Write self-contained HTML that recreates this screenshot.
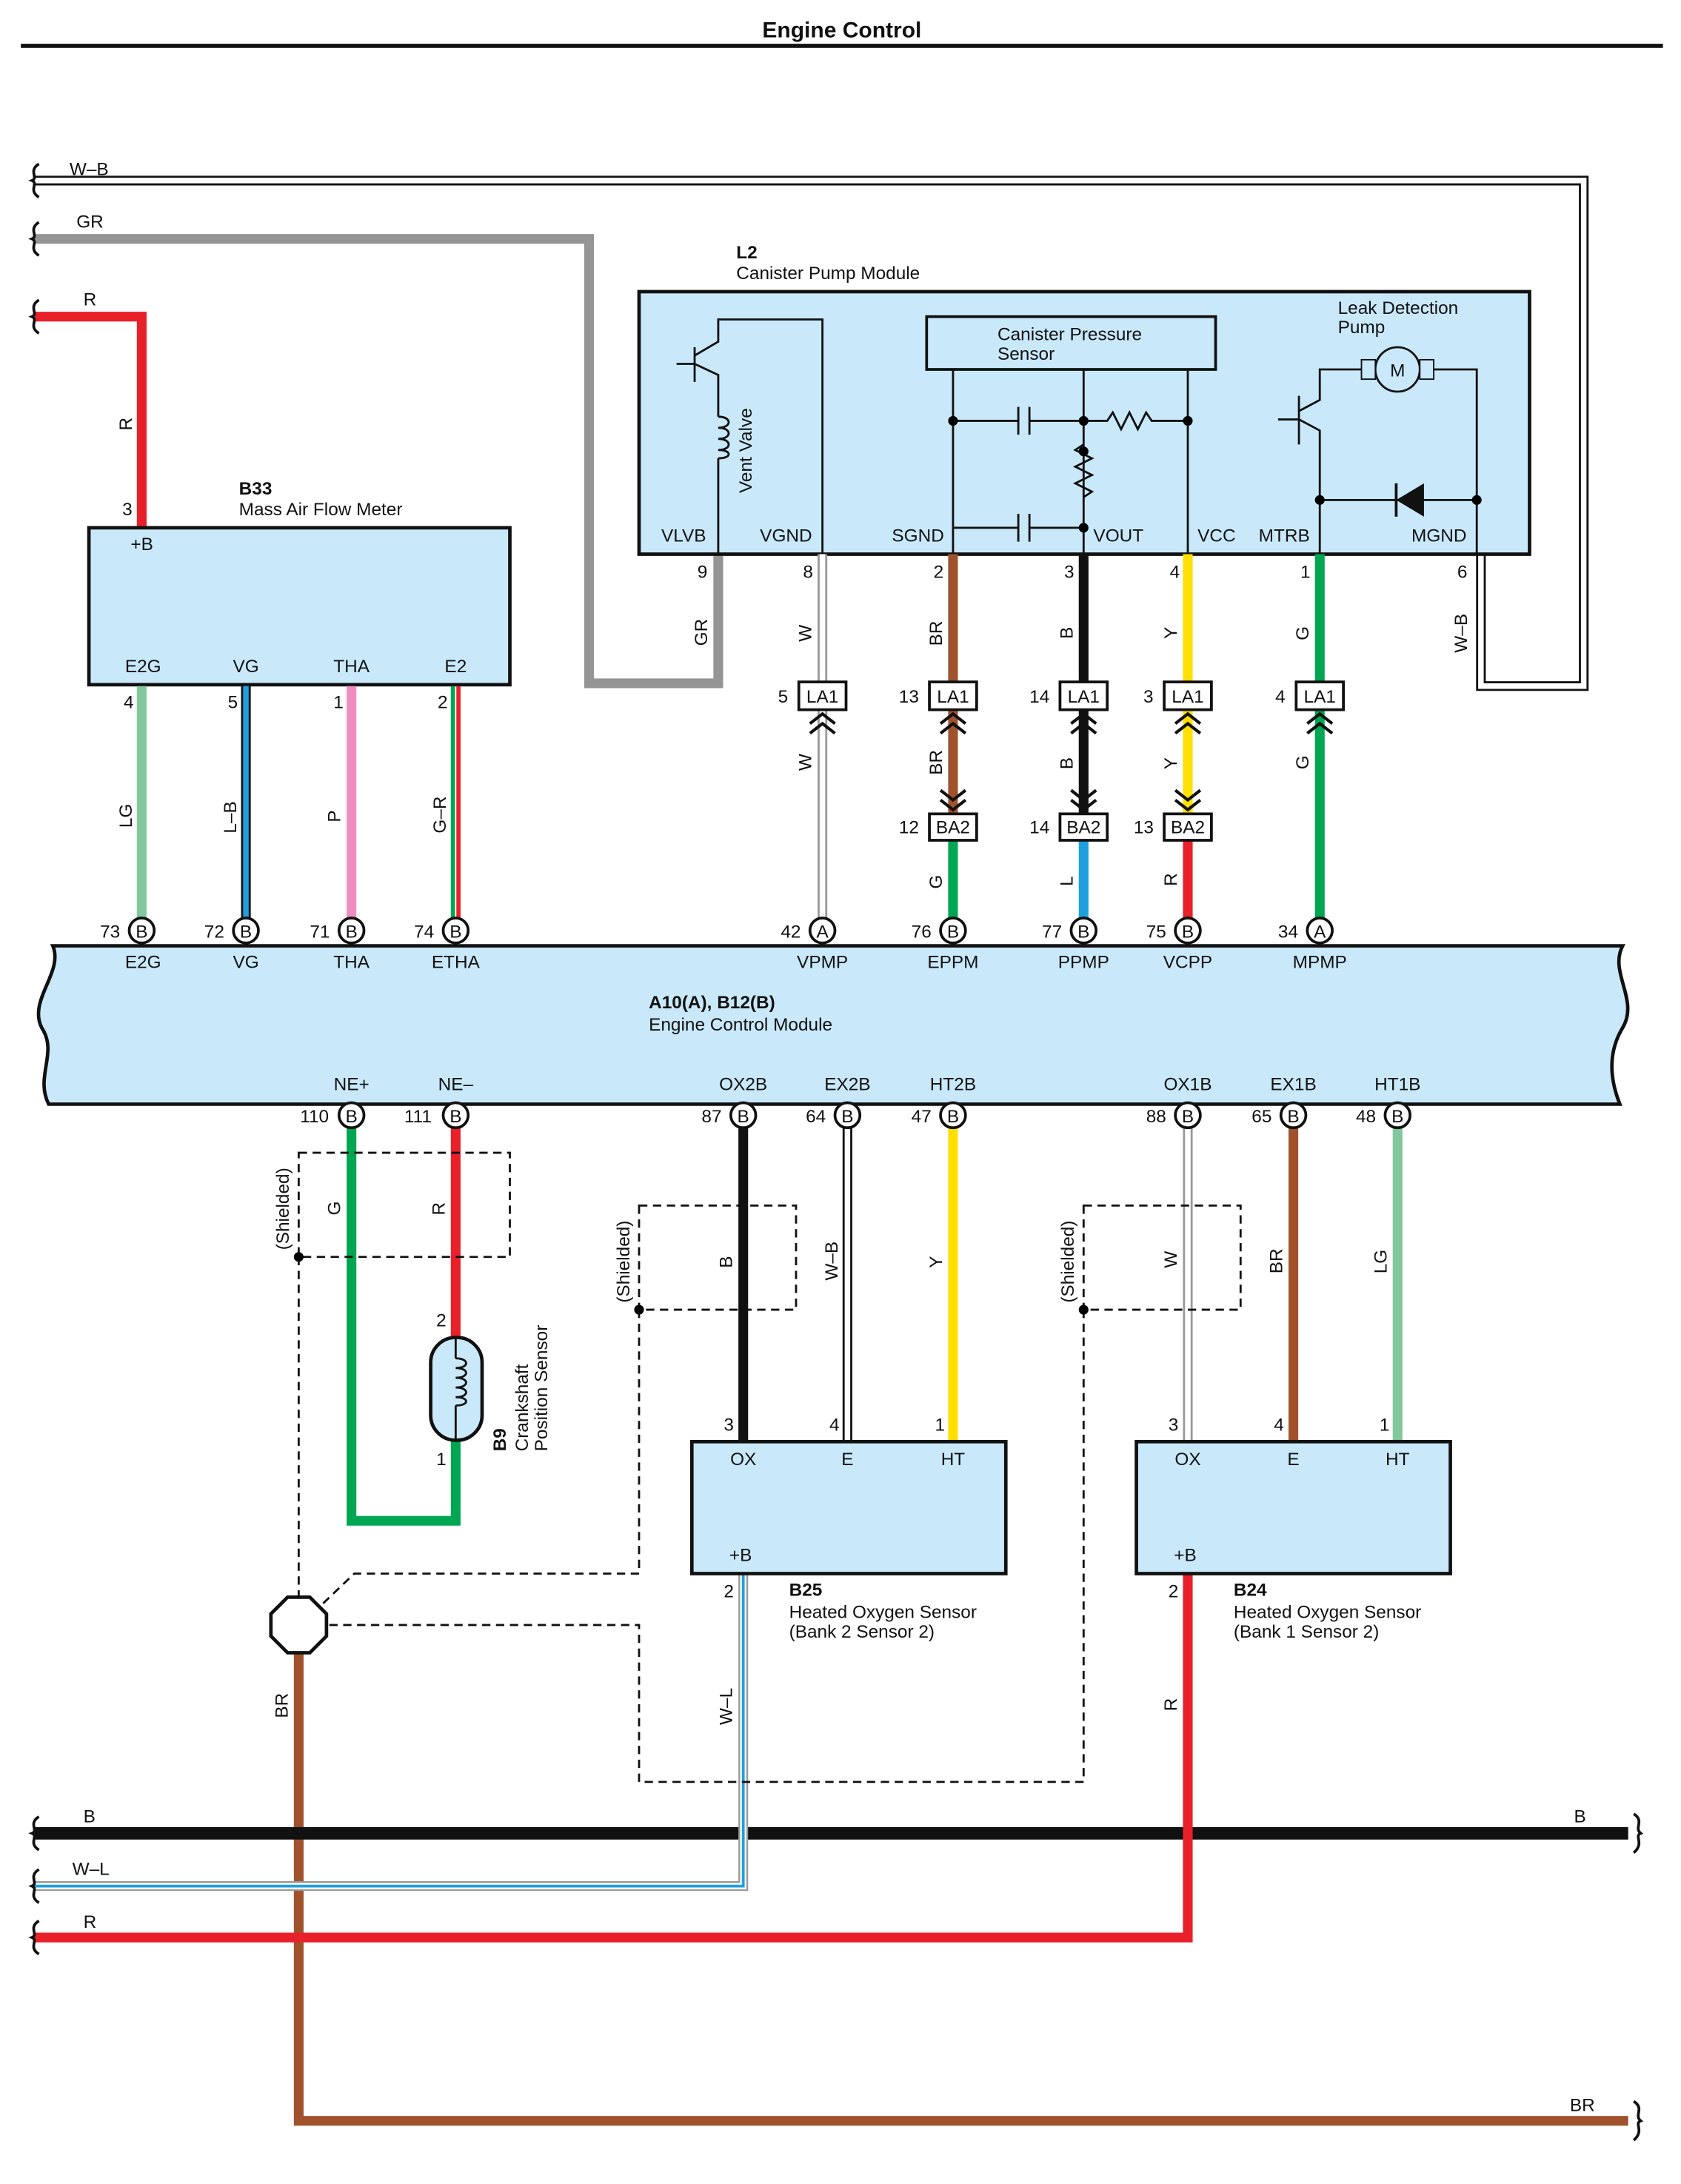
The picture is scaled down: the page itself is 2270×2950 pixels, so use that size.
<!DOCTYPE html>
<html><head><meta charset="utf-8"><style>
html,body{margin:0;padding:0;background:#fff}
svg{display:block}
text{font-family:"Liberation Sans",Arial,sans-serif;font-size:13px;fill:#111}
.b{font-weight:bold}
.box{fill:#c9e9fb;stroke:#111;stroke-width:2.5}
.th{fill:none;stroke:#111;stroke-width:1.5}
.d{fill:none;stroke:#111;stroke-width:1.5;stroke-dasharray:6,4}
</style></head><body>
<svg width="2270" height="2950" viewBox="0 0 1210 1572.5" xmlns="http://www.w3.org/2000/svg">
<text x="606" y="27" class="b" font-size="16" text-anchor="middle" style="font-size:16px">Engine Control</text>
<line x1="15" y1="33" x2="1197" y2="33" stroke="#111" stroke-width="3"/>

<!-- W-B wire -->
<path d="M25,130 H1140 V494 H1066 V400" fill="none" stroke="#111" stroke-width="7"/>
<path d="M25,130 H1140 V494 H1066 V400" fill="none" stroke="#fff" stroke-width="4"/>
<!-- GR -->
<path d="M25,172 H424 V492 H517 V400" fill="none" stroke="#959595" stroke-width="7"/>
<!-- R top -->
<path d="M25,228 H102 V380" fill="none" stroke="#e8202a" stroke-width="7"/>
<text x="50" y="126">W–B</text><text x="55" y="164">GR</text><text x="60" y="220">R</text>
<text transform="translate(95,310) rotate(-90)">R</text>

<!-- B33 -->
<rect x="64" y="380" width="303" height="113" class="box"/>
<text x="172" y="356" class="b">B33</text><text x="172" y="371">Mass Air Flow Meter</text>
<text x="88" y="371">3</text><text x="94" y="396">+B</text>
<text x="103" y="484" text-anchor="middle">E2G</text><text x="177" y="484" text-anchor="middle">VG</text>
<text x="253" y="484" text-anchor="middle">THA</text><text x="328" y="484" text-anchor="middle">E2</text>
<line x1="102" y1="494" x2="102" y2="661" stroke="#82c89c" stroke-width="7"/>
<line x1="177" y1="494" x2="177" y2="661" stroke="#111" stroke-width="7"/>
<line x1="177" y1="494" x2="177" y2="661" stroke="#1ea0e0" stroke-width="4"/>
<line x1="253" y1="494" x2="253" y2="661" stroke="#f08dc0" stroke-width="7"/>
<line x1="326" y1="494" x2="326" y2="661" stroke="#00a651" stroke-width="3"/>
<line x1="330" y1="494" x2="330" y2="661" stroke="#e8202a" stroke-width="3"/>
<text x="89" y="510">4</text><text x="164" y="510">5</text><text x="240" y="510">1</text><text x="315" y="510">2</text>
<text transform="translate(95,596) rotate(-90)">LG</text><text transform="translate(170,600) rotate(-90)">L–B</text>
<text transform="translate(245,592) rotate(-90)">P</text><text transform="translate(321,600) rotate(-90)">G–R</text>

<!-- L2 -->
<rect x="460" y="210" width="641" height="189" class="box"/>
<text x="530" y="186" class="b">L2</text><text x="530" y="201">Canister Pump Module</text>
<text x="476" y="390">VLVB</text><text x="547" y="390">VGND</text><text x="642" y="390">SGND</text>
<text x="787" y="390">VOUT</text><text x="862" y="390">VCC</text><text x="906" y="390">MTRB</text><text x="1016" y="390">MGND</text>
<!-- vent valve -->
<path d="M517,399 V330 M517,300 V270 L500,262 M500,250 V275 M500,262 H487 M500,256 L517,246 V230 H592 V399" class="th"/>
<path d="M517,300 c10,0 10,8 0,8 c10,0 10,8 0,8 c10,0 10,8 0,8 c10,0 10,6 0,6" class="th"/>
<text transform="translate(541,355) rotate(-90)">Vent Valve</text>
<!-- sensor -->
<rect x="667" y="228" width="208" height="38" fill="none" stroke="#111" stroke-width="2"/>
<text x="718" y="245">Canister Pressure</text><text x="718" y="259">Sensor</text>
<path d="M686,266 V399 M780,266 V399 M855,266 V399 M686,303 H733 M741,303 H780 M733,293 V313 M741,293 V313 M780,303 H797 l4,-6 l6,12 l6,-12 l6,12 l6,-12 l4,6 H855 M780,320 l-6,4 l12,6 l-12,6 l12,6 l-12,6 l12,6 l-6,4 V380 M686,380 H733 M741,380 H780 M733,370 V390 M741,370 V390" class="th"/>
<circle cx="686" cy="303" r="3.5"/><circle cx="780" cy="303" r="3.5"/><circle cx="855" cy="303" r="3.5"/><circle cx="780" cy="325" r="3.5"/><circle cx="780" cy="380" r="3.5"/>
<!-- pump -->
<text x="963" y="226">Leak Detection</text><text x="963" y="240">Pump</text>
<circle cx="1006" cy="266" r="16" fill="#c9e9fb" stroke="#111" stroke-width="1.5"/><text x="1006" y="271" text-anchor="middle">M</text>
<rect x="980" y="259" width="10" height="14" fill="#c9e9fb" stroke="#111"/><rect x="1022" y="259" width="10" height="14" fill="#c9e9fb" stroke="#111"/>
<path d="M950,399 V310 L935,302 M935,285 V320 M935,302 H920 M935,296 L950,288 V266 H980 M1032,266 H1063 V399 M950,360 H1063" class="th"/>
<path d="M1025,348 V372 L1005,360 Z" fill="#111"/><line x1="1005" y1="348" x2="1005" y2="372" stroke="#111" stroke-width="2"/>
<circle cx="950" cy="360" r="3.5"/><circle cx="1063" cy="360" r="3.5"/>

<!-- L2 pins -->
<text x="502" y="416">9</text><text x="578" y="416">8</text><text x="672" y="416">2</text><text x="766" y="416">3</text><text x="842" y="416">4</text><text x="936" y="416">1</text><text x="1049" y="416">6</text>
<!-- wires down -->
<line x1="592" y1="399" x2="592" y2="661" stroke="#999" stroke-width="7"/><line x1="592" y1="399" x2="592" y2="661" stroke="#fff" stroke-width="4"/>
<line x1="686" y1="399" x2="686" y2="586" stroke="#a0522d" stroke-width="7"/><line x1="686" y1="605" x2="686" y2="661" stroke="#00a651" stroke-width="7"/>
<line x1="780" y1="399" x2="780" y2="586" stroke="#111" stroke-width="7"/><line x1="780" y1="605" x2="780" y2="661" stroke="#1ea0e0" stroke-width="7"/>
<line x1="855" y1="399" x2="855" y2="586" stroke="#ffe000" stroke-width="7"/><line x1="855" y1="605" x2="855" y2="661" stroke="#e8202a" stroke-width="7"/>
<line x1="950" y1="399" x2="950" y2="661" stroke="#00a651" stroke-width="7"/>
<g>
<text transform="translate(509,465) rotate(-90)">GR</text><text transform="translate(584,462) rotate(-90)">W</text>
<text transform="translate(678,465) rotate(-90)">BR</text><text transform="translate(772,460) rotate(-90)">B</text>
<text transform="translate(847,460) rotate(-90)">Y</text><text transform="translate(942,461) rotate(-90)">G</text>
<text transform="translate(1056,470) rotate(-90)">W–B</text>
<text transform="translate(584,555) rotate(-90)">W</text><text transform="translate(678,558) rotate(-90)">BR</text>
<text transform="translate(772,554) rotate(-90)">B</text><text transform="translate(847,554) rotate(-90)">Y</text><text transform="translate(942,554) rotate(-90)">G</text>
<text transform="translate(678,640) rotate(-90)">G</text><text transform="translate(772,638) rotate(-90)">L</text><text transform="translate(847,638) rotate(-90)">R</text>
</g>
<!-- LA1 connectors -->
<g fill="#fff" stroke="#111" stroke-width="2">
<rect x="575" y="491" width="34" height="20"/><rect x="669" y="491" width="34" height="20"/><rect x="763" y="491" width="34" height="20"/><rect x="838" y="491" width="34" height="20"/><rect x="933" y="491" width="34" height="20"/>
<rect x="669" y="586" width="34" height="19"/><rect x="763" y="586" width="34" height="19"/><rect x="838" y="586" width="34" height="19"/>
</g>
<g class="th" style="stroke-width:2.2">
<path d="M583,521 l9,-7 l9,7 M583,528 l9,-7 l9,7"/><path d="M677,521 l9,-7 l9,7 M677,528 l9,-7 l9,7"/><path d="M771,521 l9,-7 l9,7 M771,528 l9,-7 l9,7"/><path d="M846,521 l9,-7 l9,7 M846,528 l9,-7 l9,7"/><path d="M941,521 l9,-7 l9,7 M941,528 l9,-7 l9,7"/>
<path d="M677,569 l9,7 l9,-7 M677,576 l9,7 l9,-7"/><path d="M771,569 l9,7 l9,-7 M771,576 l9,7 l9,-7"/><path d="M846,569 l9,7 l9,-7 M846,576 l9,7 l9,-7"/>
</g>
<g text-anchor="middle"><text x="592" y="506">LA1</text><text x="686" y="506">LA1</text><text x="780" y="506">LA1</text><text x="855" y="506">LA1</text><text x="950" y="506">LA1</text>
<text x="686" y="600">BA2</text><text x="780" y="600">BA2</text><text x="855" y="600">BA2</text></g>
<text x="560" y="506">5</text><text x="647" y="506">13</text><text x="741" y="506">14</text><text x="823" y="506">3</text><text x="918" y="506">4</text>
<text x="647" y="600">12</text><text x="741" y="600">14</text><text x="816" y="600">13</text>

<!-- ECM -->
<path d="M38,681 L1168,681 C1158,700 1180,720 1168,740 C1156,760 1160,780 1166,795 L35,795 C25,775 42,758 30,740 C20,720 46,700 38,681 Z" class="box"/>
<text x="467" y="726" class="b">A10(A), B12(B)</text><text x="467" y="742">Engine Control Module</text>
<g text-anchor="middle">
<text x="103" y="697">E2G</text><text x="177" y="697">VG</text><text x="253" y="697">THA</text><text x="328" y="697">ETHA</text>
<text x="592" y="697">VPMP</text><text x="686" y="697">EPPM</text><text x="780" y="697">PPMP</text><text x="855" y="697">VCPP</text><text x="950" y="697">MPMP</text>
<text x="253" y="785">NE+</text><text x="328" y="785">NE–</text><text x="535" y="785">OX2B</text><text x="610" y="785">EX2B</text><text x="686" y="785">HT2B</text>
<text x="855" y="785">OX1B</text><text x="931" y="785">EX1B</text><text x="1006" y="785">HT1B</text>
</g>

<!-- lower wires -->
<path d="M253,812 V1095 H328 V1037" fill="none" stroke="#00a651" stroke-width="7"/>
<line x1="328" y1="812" x2="328" y2="963" stroke="#e8202a" stroke-width="7"/>
<line x1="535" y1="812" x2="535" y2="1038" stroke="#111" stroke-width="7"/>
<line x1="610" y1="812" x2="610" y2="1038" stroke="#111" stroke-width="7"/><line x1="610" y1="812" x2="610" y2="1038" stroke="#fff" stroke-width="4"/>
<line x1="686" y1="812" x2="686" y2="1038" stroke="#ffe000" stroke-width="7"/>
<line x1="855" y1="812" x2="855" y2="1038" stroke="#999" stroke-width="7"/><line x1="855" y1="812" x2="855" y2="1038" stroke="#fff" stroke-width="4"/>
<line x1="931" y1="812" x2="931" y2="1038" stroke="#a0522d" stroke-width="7"/>
<line x1="1006" y1="812" x2="1006" y2="1038" stroke="#82c89c" stroke-width="7"/>

<!-- bottom bus -->
<path d="M215,1190 V1527 H1172" fill="none" stroke="#a0522d" stroke-width="7"/>
<line x1="25" y1="1320" x2="1172" y2="1320" stroke="#111" stroke-width="9"/>
<path d="M535,1133 V1358 H25" fill="none" stroke="#999" stroke-width="7"/><path d="M535,1133 V1358 H25" fill="none" stroke="#fff" stroke-width="4.5"/>
<path d="M535,1133 V1358 H25" fill="none" stroke="#1ea0e0" stroke-width="2"/>
<path d="M855,1133 V1395 H25" fill="none" stroke="#e8202a" stroke-width="7"/>
<text x="60" y="1312">B</text><text x="1133" y="1312">B</text><text x="52" y="1350">W–L</text><text x="60" y="1388">R</text><text x="1130" y="1520">BR</text>

<!-- pins circles -->
<g fill="#fff" stroke="#111" stroke-width="2">
<circle cx="102" cy="670" r="9"/><circle cx="177" cy="670" r="9"/><circle cx="253" cy="670" r="9"/><circle cx="328" cy="670" r="9"/><circle cx="592" cy="670" r="9"/><circle cx="686" cy="670" r="9"/><circle cx="780" cy="670" r="9"/><circle cx="855" cy="670" r="9"/><circle cx="950" cy="670" r="9"/>
<circle cx="253" cy="803" r="9"/><circle cx="328" cy="803" r="9"/><circle cx="535" cy="803" r="9"/><circle cx="610" cy="803" r="9"/><circle cx="686" cy="803" r="9"/><circle cx="855" cy="803" r="9"/><circle cx="931" cy="803" r="9"/><circle cx="1006" cy="803" r="9"/>
</g>
<g text-anchor="middle" style="font-size:12px">
<text x="102" y="675">B</text><text x="177" y="675">B</text><text x="253" y="675">B</text><text x="328" y="675">B</text><text x="592" y="675">A</text><text x="686" y="675">B</text><text x="780" y="675">B</text><text x="855" y="675">B</text><text x="950" y="675">A</text>
<text x="253" y="808">B</text><text x="328" y="808">B</text><text x="535" y="808">B</text><text x="610" y="808">B</text><text x="686" y="808">B</text><text x="855" y="808">B</text><text x="931" y="808">B</text><text x="1006" y="808">B</text>
</g>
<text x="72" y="675">73</text><text x="147" y="675">72</text><text x="223" y="675">71</text><text x="298" y="675">74</text><text x="562" y="675">42</text><text x="656" y="675">76</text><text x="750" y="675">77</text><text x="825" y="675">75</text><text x="920" y="675">34</text>
<text x="216" y="808">110</text><text x="291" y="808">111</text><text x="505" y="808">87</text><text x="580" y="808">64</text><text x="656" y="808">47</text><text x="825" y="808">88</text><text x="901" y="808">65</text><text x="976" y="808">48</text>

<!-- shields -->
<rect x="215" y="830" width="152" height="75" class="d"/>
<rect x="460" y="868" width="113" height="75" class="d"/>
<rect x="780" y="868" width="113" height="75" class="d"/>
<path d="M215,905 V1150 M460,943 V1133 H255 L232,1155 M780,943 V1283 H460 V1170 H235" class="d"/>
<circle cx="215" cy="905" r="3.5"/><circle cx="460" cy="943" r="3.5"/><circle cx="780" cy="943" r="3.5"/>
<path d="M207,1150 H223 L235,1162 V1178 L223,1190 H207 L195,1178 V1162 Z" fill="#fff" stroke="#111" stroke-width="2.5"/>
<text transform="translate(208,900) rotate(-90)">(Shielded)</text><text transform="translate(453,938) rotate(-90)">(Shielded)</text><text transform="translate(773,938) rotate(-90)">(Shielded)</text>
<text transform="translate(245,875) rotate(-90)">G</text><text transform="translate(320,875) rotate(-90)">R</text>
<text transform="translate(527,913) rotate(-90)">B</text><text transform="translate(603,922) rotate(-90)">W–B</text><text transform="translate(678,913) rotate(-90)">Y</text>
<text transform="translate(847,913) rotate(-90)">W</text><text transform="translate(923,917) rotate(-90)">BR</text><text transform="translate(998,917) rotate(-90)">LG</text>
<text transform="translate(527,1242) rotate(-90)">W–L</text><text transform="translate(847,1232) rotate(-90)">R</text><text transform="translate(207,1237) rotate(-90)">BR</text>

<!-- B9 -->
<rect x="310" y="963" width="37" height="74" rx="18" class="box"/>
<path d="M328,978 c10,0 10,7 0,7 c10,0 10,7 0,7 c10,0 10,7 0,7 c10,0 10,7 0,7 c10,0 10,6 0,6 M328,963 V978 M328,1012 V1037" class="th"/>
<text x="314" y="955">2</text><text x="314" y="1055">1</text>
<text transform="translate(364,1045) rotate(-90)" class="b">B9</text>
<text transform="translate(380,1045) rotate(-90)">Crankshaft</text><text transform="translate(394,1045) rotate(-90)">Position Sensor</text>

<!-- B25 / B24 -->
<rect x="498" y="1038" width="226" height="95" class="box"/>
<rect x="818" y="1038" width="226" height="95" class="box"/>
<g text-anchor="middle"><text x="535" y="1055">OX</text><text x="610" y="1055">E</text><text x="686" y="1055">HT</text>
<text x="855" y="1055">OX</text><text x="931" y="1055">E</text><text x="1006" y="1055">HT</text></g>
<text x="525" y="1124">+B</text><text x="845" y="1124">+B</text>
<text x="521" y="1030">3</text><text x="597" y="1030">4</text><text x="673" y="1030">1</text>
<text x="841" y="1030">3</text><text x="917" y="1030">4</text><text x="993" y="1030">1</text>
<text x="521" y="1150">2</text><text x="841" y="1150">2</text>
<text x="568" y="1149" class="b">B25</text><text x="568" y="1165">Heated Oxygen Sensor</text><text x="568" y="1179">(Bank 2 Sensor 2)</text>
<text x="888" y="1149" class="b">B24</text><text x="888" y="1165">Heated Oxygen Sensor</text><text x="888" y="1179">(Bank 1 Sensor 2)</text>

<!-- braces -->
<g class="th" style="stroke-width:2">
<path d="M28,118 c-8,5 0,10 -5,12 c5,2 -3,7 5,12"/><path d="M28,160 c-8,5 0,10 -5,12 c5,2 -3,7 5,12"/><path d="M28,216 c-8,5 0,10 -5,12 c5,2 -3,7 5,12"/>
<path d="M28,1308 c-8,5 0,10 -5,12 c5,2 -3,7 5,12"/><path d="M28,1346 c-8,5 0,10 -5,12 c5,2 -3,7 5,12"/><path d="M28,1383 c-8,5 0,10 -5,12 c5,2 -3,7 5,12"/>
<path d="M1176,1306 c8,5 0,10 5,14 c-5,2 3,7 -5,14"/><path d="M1176,1513 c8,5 0,10 5,14 c-5,2 3,7 -5,14"/>
</g>
</svg>
</body></html>
